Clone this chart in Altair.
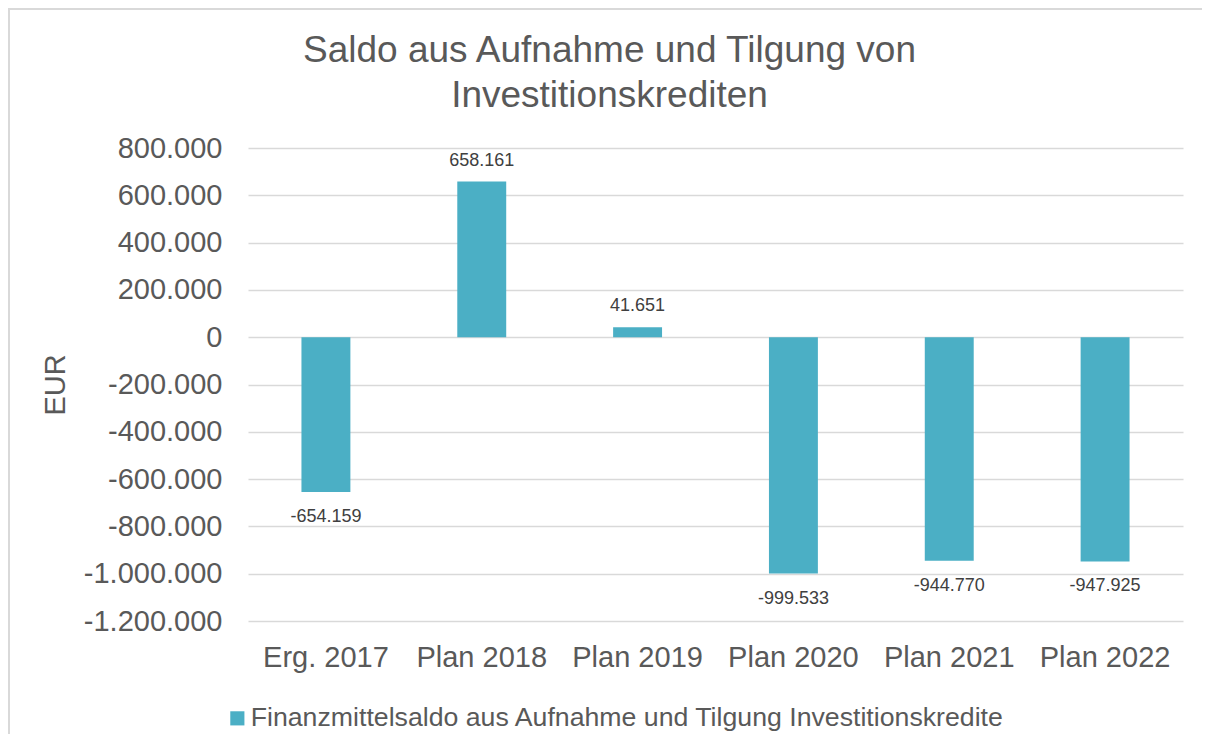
import altair as alt
import pandas as pd

categories = ["Erg. 2017", "Plan 2018", "Plan 2019", "Plan 2020", "Plan 2021", "Plan 2022"]
values = [-654159, 658161, 41651, -999533, -944770, -947925]
series_name = "Finanzmittelsaldo aus Aufnahme und Tilgung Investitionskredite"
y_ticks = [-1200000, -1000000, -800000, -600000, -400000, -200000, 0,
           200000, 400000, 600000, 800000]
title_lines = ["Saldo aus Aufnahme und Tilgung von", "Investitionskrediten"]

BAR = "#4bafc5"
TXT = "#595959"
FONT = "Liberation Sans"
PW, PH = 935, 473
PAD = {"left": 240, "top": 140, "right": 19, "bottom": 113}

df = pd.DataFrame({"cat": categories, "value": values, "series": series_name})

x_enc = alt.X(
    "cat:N", sort=categories,
    scale=alt.Scale(paddingInner=0.686, paddingOuter=0.343),
    axis=alt.Axis(title=None, labelAngle=0, labelFontSize=29, labelColor=TXT,
                  labelFont=FONT, labelPadding=22, ticks=False, domain=False,
                  grid=False),
)
y_scale = alt.Scale(domain=[-1200000, 800000], nice=False, zero=True)

bars = alt.Chart(df).mark_bar(color=BAR).encode(
    x=x_enc,
    y=alt.Y("value:Q", scale=y_scale,
            axis=alt.Axis(values=y_ticks, format=",d", title="EUR",
                          labelFontSize=29, labelColor=TXT, labelFont=FONT,
                          labelPadding=26, ticks=False, domain=False,
                          grid=True, gridColor="#d9d9d9", gridWidth=1.3,
                          titleFontSize=29, titleColor=TXT, titleFont=FONT,
                          titleFontWeight="normal", titleAngle=270,
                          titleX=-193, titleY=236.5, titleAlign="center",
                          titleBaseline="middle")),
    color=alt.Color("series:N", scale=alt.Scale(range=[BAR]),
                    legend=alt.Legend(title=None, orient="none", legendX=-24,
                                      legendY=557, symbolType="square",
                                      symbolSize=200, symbolStrokeWidth=0,
                                      labelFontSize=26.7, labelColor=TXT,
                                      labelFont=FONT, labelLimit=1200,
                                      labelOffset=0)),
)

pos_labels = alt.Chart(df).transform_filter("datum.value >= 0").mark_text(
    baseline="bottom", dy=-12, fontSize=18, color="#404040", font=FONT
).encode(x=alt.X("cat:N", sort=categories), y=alt.Y("value:Q", scale=y_scale),
         text=alt.Text("value:Q", format=",d"))

neg_labels = alt.Chart(df).transform_filter("datum.value < 0").mark_text(
    baseline="top", dy=16, fontSize=18, color="#404040", font=FONT
).encode(x=alt.X("cat:N", sort=categories), y=alt.Y("value:Q", scale=y_scale),
         text=alt.Text("value:Q", format=",d"))

frame = alt.Chart(pd.DataFrame({"f": [0]})).mark_rect(
    fillOpacity=0, stroke="#d9d9d9", strokeWidth=2
).encode(x=alt.value(-239), x2=alt.value(PW + 100),
         y=alt.value(-139), y2=alt.value(PH + 300))

chart = alt.layer(frame, bars, pos_labels, neg_labels).properties(
    width=PW, height=PH,
    padding=PAD,
    autosize=alt.AutoSizeParams(type="none"),
    title=alt.TitleParams(text=title_lines, fontSize=37, font=FONT,
                          fontWeight="normal", color=TXT, anchor="middle",
                          dx=-106, offset=-107, lineHeight=45),
).configure(
    locale={"number": {"decimal": ",", "thousands": ".", "grouping": [3],
                       "currency": ["", " €"], "minus": "-"}}
).configure_view(stroke=None)

chart.save("out.html", embed_options={"renderer": "svg", "actions": False})
